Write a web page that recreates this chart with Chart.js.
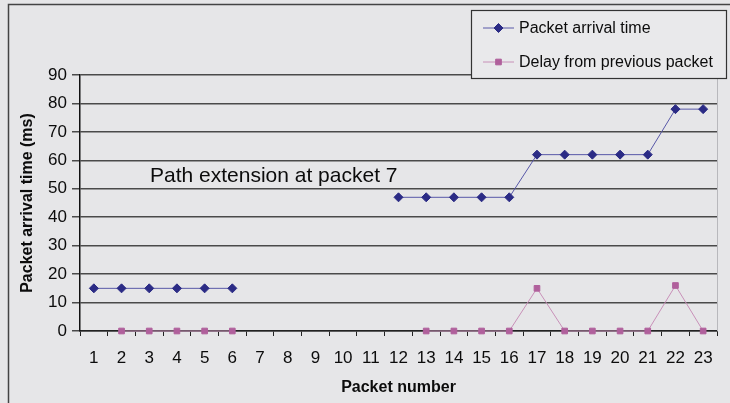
<!DOCTYPE html>
<html>
<head>
<meta charset="utf-8">
<script src="https://cdn.jsdelivr.net/npm/chart.js@4/dist/chart.umd.min.js"></script>
<style>
  html, body { margin: 0; padding: 0; background: #e6e6e8; }
  #wrap { width: 730px; height: 403px; }
</style>
</head>
<body>
<div id="wrap"><canvas id="myChart" width="730" height="403"></canvas></div>
<script>
const packets = ['1','2','3','4','5','6','7','8','9','10','11','12','13','14','15','16','17','18','19','20','21','22','23'];
const arrivalTime = [15,15,15,15,15,15,null,null,null,null,null,47,47,47,47,47,62,62,62,62,62,78,78];
const delayPrev = [null,0,0,0,0,0,null,null,null,null,null,null,0,0,0,0,15,0,0,0,0,16,0];
const yTicks = [0,10,20,30,40,50,60,70,80,90];
const note = 'Path extension at packet 7';

const FONT = 'Arial, "Liberation Sans", sans-serif';

// frame, right edge of the plot, the note and the boxed legend
const extras = {
    id: 'extras',
    afterDraw(chart) {
        const c = chart.ctx;
        const area = chart.chartArea;
        c.save();

        c.strokeStyle = '#444';
        c.lineWidth = 1.5;
        c.strokeRect(8.5, 4.5, 900, 600);

        c.strokeStyle = '#b8b8bc';
        c.lineWidth = 1;
        c.beginPath();
        c.moveTo(area.right + 0.5, chart.scales.y.getPixelForValue(90));
        c.lineTo(area.right + 0.5, area.bottom);
        c.stroke();

        c.fillStyle = '#0c0c0c';
        c.font = '21px ' + FONT;
        c.textBaseline = 'alphabetic';
        c.fillText(note, area.left + 70, 182);

        // legend
        const bx = 471.5, by = 10.5, bw = 255, bh = 68;
        c.fillStyle = '#e9e9eb';
        c.fillRect(bx, by, bw, bh);
        c.strokeStyle = '#333';
        c.lineWidth = 1.2;
        c.strokeRect(bx, by, bw, bh);
        c.font = '16px ' + FONT;
        c.textBaseline = 'middle';
        chart.data.datasets.forEach((ds, i) => {
            const y = 28 + i * 34;
            c.strokeStyle = ds.borderColor;
            c.lineWidth = 1;
            c.beginPath();
            c.moveTo(483, y);
            c.lineTo(514, y);
            c.stroke();
            c.fillStyle = ds.pointBackgroundColor;
            c.strokeStyle = ds.pointBorderColor;
            Chart.helpers.drawPoint(c, {pointStyle: ds.pointStyle, radius: ds.pointRadius, rotation: 0, borderWidth: 1}, 498.5, y);
            c.fillStyle = '#0c0c0c';
            c.fillText(ds.label, 519, y + 1);
        });
        c.restore();
    }
};

const ctx = document.getElementById('myChart');
const myChart = new Chart(ctx, {
    type: 'line',
    data: {
        labels: packets,
        datasets: [{
            label: 'Packet arrival time',
            data: arrivalTime,
            borderColor: '#5858a8',
            borderWidth: 1,
            pointStyle: 'rectRot',
            pointRadius: 4.5,
            pointBackgroundColor: '#2b2b85',
            pointBorderColor: '#2b2b85',
            clip: false,
            tension: 0
        }, {
            label: 'Delay from previous packet',
            data: delayPrev,
            borderColor: '#c890b8',
            borderWidth: 1,
            pointStyle: 'rect',
            pointRadius: 4,
            pointBackgroundColor: '#b0609c',
            pointBorderColor: '#b0609c',
            clip: false,
            tension: 0
        }]
    },
    options: {
        responsive: false,
        animation: false,
        events: [],
        layout: { padding: { top: 75, right: 13, left: 0, bottom: 0 } },
        plugins: {
            legend: { display: false },
            tooltip: { enabled: false }
        },
        scales: {
            x: {
                offset: true,
                afterFit(scale) { scale.height = 72; },
                grid: {
                    offset: true,
                    drawOnChartArea: false,
                    tickLength: 5,
                    color: '#222',
                    lineWidth: 1
                },
                border: { color: '#222', width: 1.5 },
                ticks: {
                    color: '#0c0c0c',
                    font: { family: FONT, size: 17 },
                    padding: 12,
                    maxRotation: 0,
                    autoSkip: false
                },
                title: {
                    display: true,
                    text: 'Packet number',
                    color: '#0c0c0c',
                    font: { family: FONT, size: 16, weight: 'bold' },
                    padding: { top: 0, bottom: 6 }
                }
            },
            y: {
                min: 0,
                max: 90,
                afterFit(scale) { scale.width = 80; },
                afterBuildTicks(scale) { scale.ticks = yTicks.map(v => ({ value: v })); },
                grid: {
                    color: '#4a4a4a',
                    lineWidth: 1.5,
                    tickLength: 8
                },
                border: { color: '#111', width: 1.5 },
                ticks: {
                    color: '#0c0c0c',
                    font: { family: FONT, size: 17 },
                    padding: 5
                },
                title: {
                    display: true,
                    text: 'Packet arrival time (ms)',
                    color: '#0c0c0c',
                    font: { family: FONT, size: 16, weight: 'bold' },
                    padding: { top: 18, bottom: 0 }
                }
            }
        }
    },
    plugins: [extras]
});
</script>
</body>
</html>
